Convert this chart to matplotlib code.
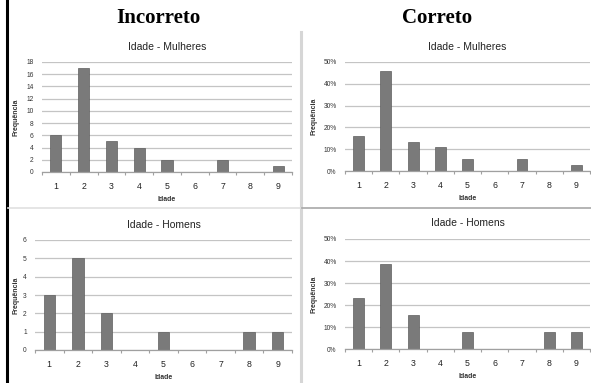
import numpy as np
import matplotlib.pyplot as plt
from matplotlib.ticker import FuncFormatter, MultipleLocator
from matplotlib.lines import Line2D

# age groups and counts per group
idades = [1, 2, 3, 4, 5, 6, 7, 8, 9]
mulheres = [6, 17, 5, 4, 2, 0, 2, 0, 1]
homens = [3, 5, 2, 0, 1, 0, 0, 1, 1]

W, H = 591, 383
fig = plt.figure(figsize=(W / 100, H / 100), dpi=100)
fig.patch.set_facecolor('white')

bar_color = '#7a7a7a'
grid_color = '#c4c4c4'
font = 'Liberation Sans'


def px_axes(left, top, width, height):
    # place an axes using pixel coordinates measured from the top-left corner
    return fig.add_axes([left / W, 1 - (top + height) / H, width / W, height / H])


def hist_panel(ax, values, ymax, ystep, titulo, left, width, label_x, pct=False):
    ax.set_axisbelow(True)
    ax.bar(idades, values, width=0.4, color=bar_color, edgecolor='#5e5e5e', linewidth=0.5)
    ax.set_xlim(0.5, 9.5)
    ax.set_ylim(0, ymax)
    ax.yaxis.set_major_locator(MultipleLocator(ystep))
    ax.yaxis.grid(True, color=grid_color, linewidth=0.9)
    for s in ['top', 'right', 'left']:
        ax.spines[s].set_visible(False)
    ax.spines['bottom'].set_color('#a0a0a0')
    ax.spines['bottom'].set_linewidth(0.9)
    ax.set_xticks(idades)
    ax.set_xticks(np.arange(0.5, 10, 1), minor=True)
    ax.tick_params(axis='x', which='major', length=0, pad=7, labelsize=6.3, labelcolor='#222222')
    ax.tick_params(axis='x', which='minor', length=2.5, color='#a0a0a0', width=0.8)
    ax.tick_params(axis='y', length=0, pad=6, labelsize=4.8, labelcolor='#333333')
    if pct:
        ax.yaxis.set_major_formatter(FuncFormatter(lambda v, p: f'{v * 100:.0f}%'))
    for lab in ax.get_xticklabels() + ax.get_yticklabels():
        lab.set_family(font)
    ax.set_xlabel('Idade', fontsize=5, fontweight='bold', family=font, color='#333333', labelpad=4)
    ax.set_ylabel('Frequência', fontsize=5, fontweight='bold', family=font, color='#333333')
    ax.yaxis.set_label_coords((label_x - left) / width, 0.5)
    ax.set_title(titulo, fontsize=7.5, family=font, color='#222222', pad=9)


tot_m = sum(mulheres)
tot_h = sum(homens)

ax1 = px_axes(42, 62, 250, 110)
hist_panel(ax1, mulheres, 18, 2, 'Idade - Mulheres', 42, 250, 20)

ax2 = px_axes(345, 62, 245, 109)
hist_panel(ax2, [v / tot_m for v in mulheres], 0.5, 0.1, 'Idade - Mulheres', 345, 245, 318, pct=True)

ax3 = px_axes(35, 240, 257, 110)
hist_panel(ax3, homens, 6, 1, 'Idade - Homens', 35, 257, 20)

ax4 = px_axes(345, 239, 245, 110)
hist_panel(ax4, [v / tot_h for v in homens], 0.5, 0.1, 'Idade - Homens', 345, 245, 318, pct=True)

# column headings
fig.text(158 / W, 1 - 18 / H, 'Incorreto', ha='center', va='center',
         fontsize=15, fontweight='bold', family='Liberation Serif')
fig.text(437 / W, 1 - 18 / H, 'Correto', ha='center', va='center',
         fontsize=15, fontweight='bold', family='Liberation Serif')

# frame lines around the panels
fig.add_artist(Line2D([7 / W, 7 / W], [0, 1], color='black', linewidth=2.2))
fig.add_artist(Line2D([301 / W, 301 / W], [0, 1 - 32 / H], color='#d6d6d6', linewidth=2.2))
fig.add_artist(Line2D([8 / W, 300 / W], [1 - 208 / H, 1 - 208 / H], color='#e0e0e0', linewidth=1.2))
fig.add_artist(Line2D([302 / W, 1], [1 - 208 / H, 1 - 208 / H], color='#a8a8a8', linewidth=1.2))

fig.savefig('out.png', dpi=100)
